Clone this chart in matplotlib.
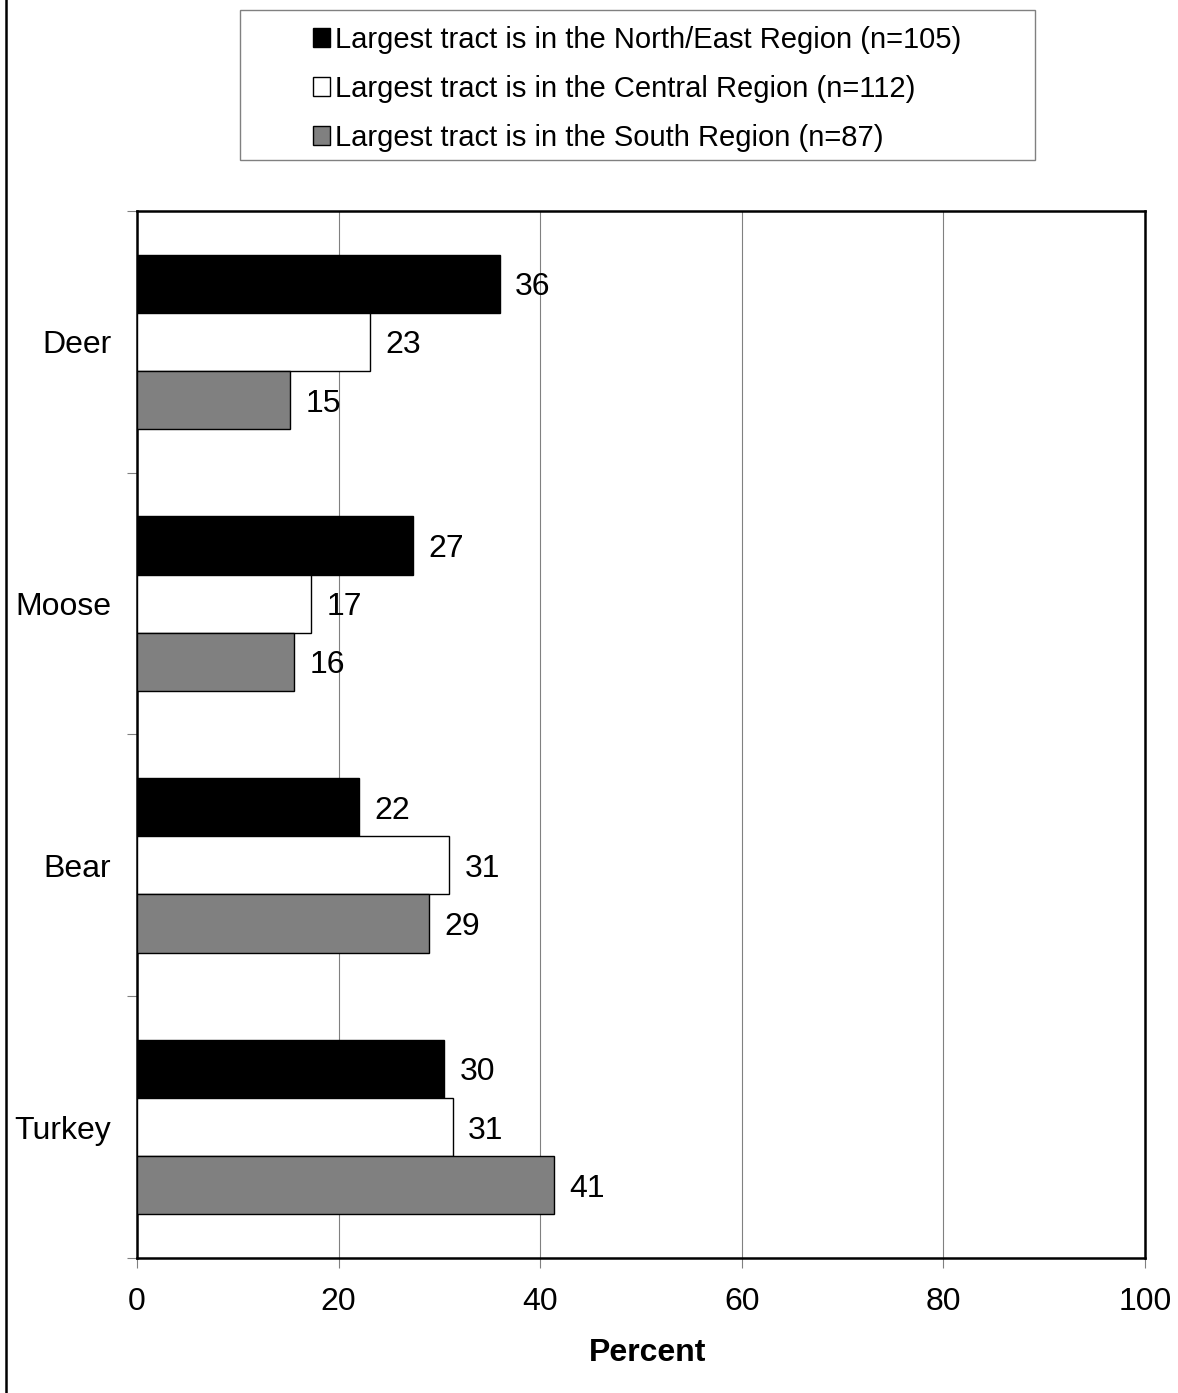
import matplotlib
matplotlib.use("Agg")
import matplotlib.pyplot as plt
from matplotlib.patches import Rectangle, Patch
from matplotlib.lines import Line2D
import numpy as np

plt.rcParams["font.family"] = ["Liberation Sans", "DejaVu Sans"]

animals = ["Deer", "Moose", "Bear", "Turkey"]
series_names = [
    "Largest tract is in the North/East Region (n=105)",
    "Largest tract is in the Central Region (n=112)",
    "Largest tract is in the South Region (n=87)",
]
north_east = [36.0, 27.4, 22.0, 30.5]
central = [23.1, 17.3, 31.0, 31.3]
south = [15.2, 15.6, 29.0, 41.4]
north_east_labels = ["36", "27", "22", "30"]
central_labels = ["23", "17", "31", "31"]
south_labels = ["15", "16", "29", "41"]
x_ticks = [0, 20, 40, 60, 80, 100]

colors = ["#000000", "#ffffff", "#808080"]
values = [north_east, central, south]
labels = [north_east_labels, central_labels, south_labels]

W, H = 1178, 1393
fig = plt.figure(figsize=(W / 100, H / 100), dpi=100)
ax = fig.add_axes([137 / W, 1 - 1258 / H, (1145 - 137) / W, (1258 - 211) / H])

y = np.arange(len(animals))
bar_h = 0.667 / 3
for i in range(3):
    pos = y + (i - 1) * bar_h
    ax.barh(pos, values[i], height=bar_h, color=colors[i], edgecolor="black",
            linewidth=1.0, zorder=3)
    for p, v, t in zip(pos, values[i], labels[i]):
        ax.annotate(t, (v, p), xytext=(11, -2.5), textcoords="offset points",
                    ha="left", va="center", fontsize=23, zorder=4)

ax.set_xlim(0, 100)
ax.set_ylim(len(animals) - 0.5, -0.5)
ax.set_xticks(x_ticks)
ax.set_xticklabels([str(t) for t in x_ticks])
ax.tick_params(axis="x", direction="out", length=7, width=0.8, color="#808080",
               labelsize=23, pad=14)

# category boundaries get tick marks, centres get the labels
ax.set_yticks(np.arange(len(animals) + 1) - 0.5)
ax.set_yticklabels([])
ax.tick_params(axis="y", which="major", direction="out", length=7, width=0.8,
               color="#808080")
ax.set_yticks(y, minor=True)
ax.set_yticklabels(animals, minor=True)
ax.tick_params(axis="y", which="minor", length=0, labelsize=23, pad=18.5)

ax.grid(axis="x", color="#808080", linewidth=0.8, zorder=0)
ax.set_axisbelow(True)
for s in ax.spines.values():
    s.set_linewidth(1.8)
    s.set_color("black")

ax.set_xlabel("Percent", fontsize=23, fontweight="bold", labelpad=15)
ax.xaxis.label.set_x(0.507)

# legend
handles = [Patch(facecolor=c, edgecolor="black", linewidth=1.0) for c in colors]
fig.legend(handles, series_names, loc="upper left",
           bbox_to_anchor=(307 / W, 1 - 20 / H), frameon=False, fontsize=21,
           handlelength=0.6, handleheight=0.6, handletextpad=0.15,
           labelspacing=0.72, borderpad=0.2, borderaxespad=0)
fig.add_artist(Rectangle((240 / W, 1 - 160 / H), (1035 - 240) / W, 150 / H,
                         transform=fig.transFigure, fill=False,
                         edgecolor="#808080", linewidth=1.0))

# left border of the figure
fig.add_artist(Line2D([5.5 / W, 5.5 / W], [0, 1], transform=fig.transFigure,
                      color="black", linewidth=1.8))

fig.savefig("out.png", dpi=100)
